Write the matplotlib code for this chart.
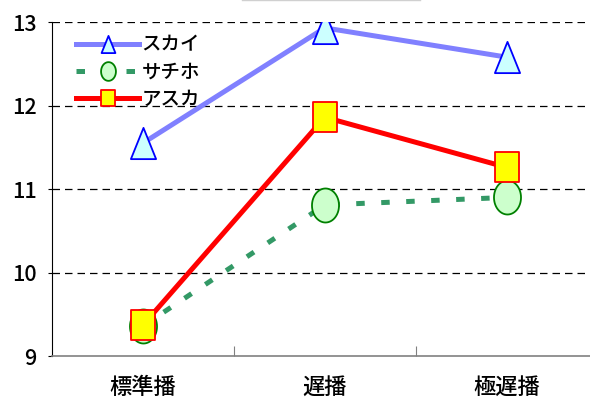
import numpy as np
import matplotlib
matplotlib.use("Agg")
import matplotlib.pyplot as plt
from matplotlib.path import Path
from matplotlib.lines import Line2D

plt.rcParams['font.family'] = ['Noto Sans CJK JP', 'DejaVu Sans']

categories = ['標準播', '遅播', '極遅播']
sky = [11.55, 12.93, 12.58]
sachiho = [9.36, 10.81, 10.90]
asuka = [9.37, 11.86, 11.26]
yticks = [9, 10, 11, 12, 13]

# slightly tall markers
def tall_triangle(aspect=25 / 31):
    w = aspect / 2
    return Path([(-w, -0.5), (w, -0.5), (0, 0.5), (-w, -0.5)],
                [Path.MOVETO, Path.LINETO, Path.LINETO, Path.CLOSEPOLY])

def tall_square(aspect=24 / 30):
    w = aspect / 2
    return Path([(-w, -0.5), (w, -0.5), (w, 0.5), (-w, 0.5), (-w, -0.5)],
                [Path.MOVETO, Path.LINETO, Path.LINETO, Path.LINETO, Path.CLOSEPOLY])

def tall_ellipse(aspect=27 / 34):
    t = np.linspace(0, 2 * np.pi, 61)
    return Path(np.column_stack([aspect / 2 * np.cos(t), 0.5 * np.sin(t)]), closed=True)

fig = plt.figure(figsize=(5.9, 4.01), dpi=100)
ax = fig.add_axes([0.088, 0.112, 0.925, 0.833])

# faint frame edge at the top of the canvas
fig.add_artist(Line2D([242 / 590, 420 / 590], [0.999, 0.999], transform=fig.transFigure,
                      color='#d0d0d0', lw=1.0))

x = np.arange(len(categories)) + 0.5

ax.plot(x, sky, color='#8080ff', lw=3.6, marker=tall_triangle(), ms=22.5,
        mfc='#ccffff', mec='#0000ff', mew=1.3, label='スカイ', zorder=3)
ax.plot(x, sachiho, color='#339966', lw=3.6, ls=(0, (1.7, 3.3)), dash_capstyle='butt',
        marker=tall_ellipse(), ms=24.5, mfc='#ccffcc', mec='#008000', mew=1.3,
        label='サチホ', zorder=3)
ax.plot(x, asuka, color='#ff0000', lw=3.6, marker=tall_square(), ms=21.6,
        mfc='#ffff00', mec='#ff0000', mew=1.3, label='アスカ', zorder=4)

ax.set_xlim(0, 3)
ax.set_ylim(9, 13)
ax.set_yticks(yticks)
ax.set_yticklabels([str(v) for v in yticks], fontsize=15.5, fontweight='medium')
ax.set_xticks([1, 2])
ax.set_xticklabels([])
ax.set_xticks(x, minor=True)
ax.set_xticklabels(categories, minor=True, fontsize=16, fontweight='medium')
ax.tick_params(axis='x', which='major', direction='in', length=7, color='#808080')
ax.tick_params(axis='x', which='minor', length=0, pad=14)
ax.tick_params(axis='y', direction='out', length=3, pad=8)

for v in yticks[1:]:
    ax.axhline(v, color='black', lw=0.9, ls=(0, (6, 4)), zorder=1)

for side in ('top', 'right'):
    ax.spines[side].set_visible(False)
ax.spines['left'].set_color('black')
ax.spines['bottom'].set_color('#808080')
ax.spines['bottom'].set_linewidth(1.2)

leg = ax.legend(loc='upper left', bbox_to_anchor=(0.02, 1.0), frameon=False,
                prop={'size': 14, 'weight': 'medium'}, handlelength=3.2,
                markerscale=0.55, labelspacing=0.42, handletextpad=0.15,
                borderaxespad=0.3)

fig.savefig('out.png', dpi=100)
